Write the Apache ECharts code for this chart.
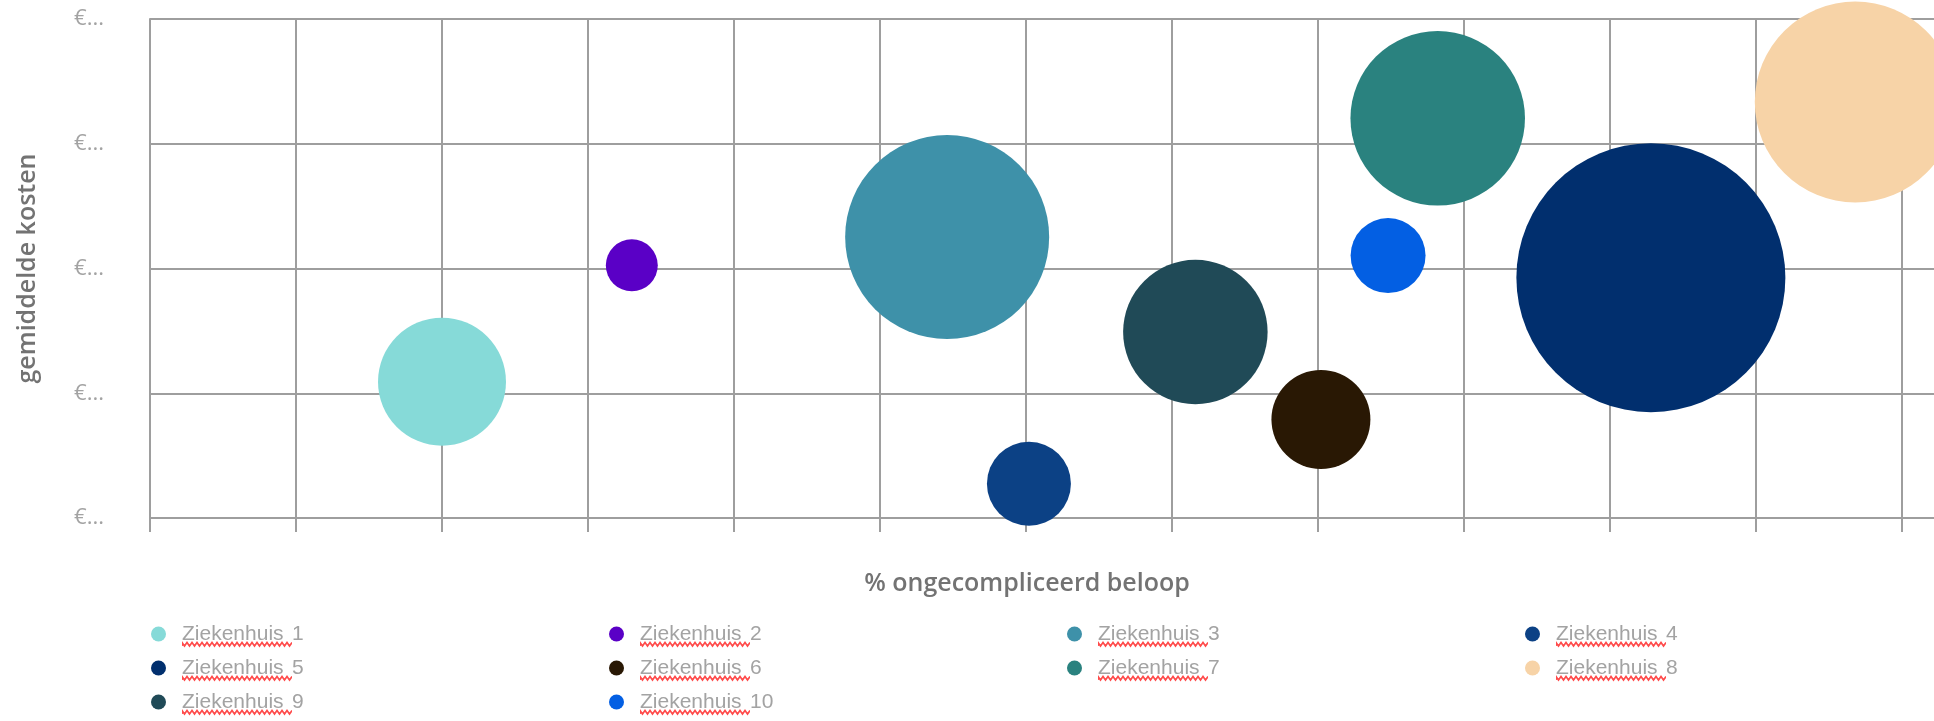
<!DOCTYPE html>
<html>
<head>
<meta charset="utf-8">
<title>Ongecompliceerd beloop en gemiddelde kosten per ziekenhuis</title>
<script src="https://cdn.jsdelivr.net/npm/echarts@6/dist/echarts.min.js"></script>
<style>
  html, body { margin: 0; padding: 0; background: #ffffff; }
  #chart { width: 1934px; height: 721px; }
</style>
</head>
<body>
<div id="chart"></div>
<script>
// Hospitals shown as bubbles
const hospitals = [
  'Ziekenhuis 1', 'Ziekenhuis 2', 'Ziekenhuis 3', 'Ziekenhuis 4', 'Ziekenhuis 5',
  'Ziekenhuis 6', 'Ziekenhuis 7', 'Ziekenhuis 8', 'Ziekenhuis 9', 'Ziekenhuis 10'
];
// % ongecompliceerd beloop (x)
const pctUncomplicated = [10.0, 16.5, 27.3, 30.1, 51.4, 40.1, 44.1, 58.4, 35.8, 42.4];
// gemiddelde kosten in euro (y)
const avgCost = [4185, 6051, 6505, 2550, 5853, 3579, 8408, 8669, 4982, 6208];
// number of patients per hospital (bubble area)
const patients = [455, 75, 1156, 196, 2010, 272, 846, 1122, 580, 156];
// colour per hospital
const hospitalColors = [
  '#86dad8', '#5a00c6', '#3e91a9', '#0c4185', '#012f6e',
  '#291804', '#2a827f', '#f7d3a7', '#204a57', '#035fe3'
];
// y-axis ticks (euro)
const yTicks = [2000, 4000, 6000, 8000, 10000];
// x-axis ticks (%)
const xTicks = [0, 5, 10, 15, 20, 25, 30, 35, 40, 45, 50, 55, 60, 65];

const GRID_GREY = '#9e9e9e';
const LABEL_GREY = '#a3a3a3';
const NAME_GREY = '#737373';

// Bubble diameter from patient count (area proportional to count)
const bubbleDiameter = n => 6 * Math.sqrt(n);

// Red wavy spell-check underline drawn under the word in each legend entry
const legendFont = '21px "Liberation Sans", Arial, sans-serif';
const legendLineHeight = 28;
function makeWave() {
  const probe = document.createElement('canvas').getContext('2d');
  probe.font = legendFont;
  const w = Math.ceil(probe.measureText('Ziekenhuis ').width) + 2;
  const c = document.createElement('canvas');
  c.width = w;
  c.height = legendLineHeight;
  const ctx = c.getContext('2d');
  ctx.strokeStyle = '#ff4a4a';
  ctx.lineWidth = 1.6;
  ctx.beginPath();
  const yTop = legendLineHeight - 5.5, yBot = legendLineHeight - 2;
  ctx.moveTo(0, yBot);
  for (let x = 0, up = true; x <= w; x += 2.5, up = !up) {
    ctx.lineTo(x, up ? yTop : yBot);
  }
  ctx.stroke();
  return c;
}
const waveImage = makeWave();

const series = hospitals.map((name, i) => ({
  name: name,
  type: 'scatter',
  symbol: 'circle',
  symbolSize: bubbleDiameter(patients[i]),
  itemStyle: { color: hospitalColors[i], opacity: 1 },
  emphasis: { disabled: true },
  data: [[pctUncomplicated[i], avgCost[i], patients[i]]]
}));

const chart = echarts.init(document.getElementById('chart'), null, { renderer: 'canvas' });

chart.setOption({
  animation: false,
  backgroundColor: '#ffffff',
  grid: {
    left: 150,
    top: 19,
    right: -114,
    bottom: 203,
    containLabel: false,
    outerBoundsMode: 'none'
  },
  xAxis: {
    type: 'value',
    min: xTicks[0],
    max: xTicks[xTicks.length - 1],
    interval: xTicks[1] - xTicks[0],
    name: '% ongecompliceerd beloop',
    nameLocation: 'middle',
    nameGap: 53,
    nameTextStyle: {
      fontFamily: '"Open Sans", sans-serif',
      fontWeight: 600,
      fontSize: 25,
      color: NAME_GREY,
      padding: [0, 144, 0, 0]
    },
    axisLine: { show: true, lineStyle: { color: GRID_GREY, width: 2 } },
    axisTick: { show: true, inside: false, length: 14, lineStyle: { color: GRID_GREY, width: 2 } },
    axisLabel: { show: false },
    splitLine: { show: true, lineStyle: { color: GRID_GREY, width: 2 } }
  },
  yAxis: {
    type: 'value',
    min: yTicks[0],
    max: yTicks[yTicks.length - 1],
    interval: yTicks[1] - yTicks[0],
    name: 'gemiddelde kosten',
    nameLocation: 'middle',
    nameGap: 110,
    nameTextStyle: {
      fontFamily: '"Open Sans", sans-serif',
      fontWeight: 600,
      fontSize: 25,
      color: NAME_GREY
    },
    axisLine: { show: true, lineStyle: { color: GRID_GREY, width: 2 } },
    axisTick: { show: false },
    axisLabel: {
      show: true,
      margin: 46,
      fontFamily: '"Open Sans", sans-serif',
      fontSize: 22,
      color: LABEL_GREY,
      width: 36,
      overflow: 'truncate',
      ellipsis: '...',
      formatter: v => '€' + v.toLocaleString('nl-NL')
    },
    splitLine: { show: true, lineStyle: { color: GRID_GREY, width: 2 } }
  },
  legend: {
    show: true,
    orient: 'horizontal',
    left: 151,
    top: 620,
    width: 1850,
    padding: 0,
    itemGap: 6,
    itemWidth: 15,
    itemHeight: 15,
    icon: 'circle',
    selectedMode: false,
    data: hospitals,
    formatter: name => {
      const parts = name.split(' ');
      return '{w|' + parts[0] + ' }{n|' + parts.slice(1).join(' ') + '}';
    },
    textStyle: {
      width: 421,
      padding: [0, 0, 0, 11],
      fontFamily: '"Liberation Sans", Arial, sans-serif',
      fontSize: 21,
      color: LABEL_GREY,
      lineHeight: legendLineHeight,
      rich: {
        w: {
          fontFamily: '"Liberation Sans", Arial, sans-serif',
          fontSize: 21,
          color: LABEL_GREY,
          lineHeight: legendLineHeight,
          height: legendLineHeight,
          backgroundColor: { image: waveImage }
        },
        n: {
          fontFamily: '"Liberation Sans", Arial, sans-serif',
          fontSize: 21,
          color: LABEL_GREY,
          lineHeight: legendLineHeight
        }
      }
    }
  },
  series: series
});
</script>
</body>
</html>
